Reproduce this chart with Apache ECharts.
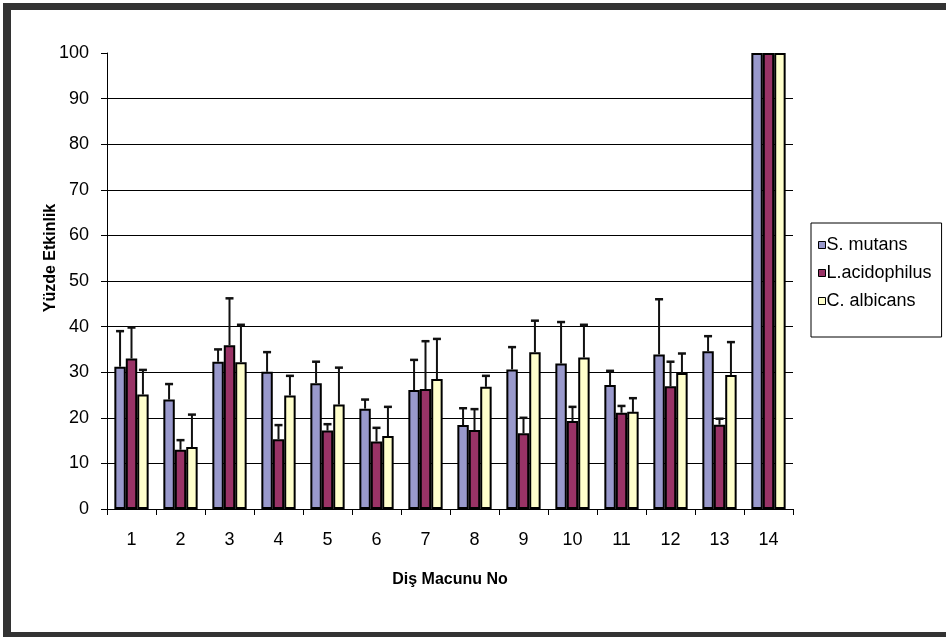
<!DOCTYPE html>
<html>
<head>
<meta charset="utf-8">
<script src="https://cdn.jsdelivr.net/npm/echarts@6/dist/echarts.min.js"></script>
<style>
html,body{margin:0;padding:0;background:#fff;}
#chart{width:946px;height:637px;}
</style>
</head>
<body>
<div id="chart"></div>
<script>
const categories = ['1','2','3','4','5','6','7','8','9','10','11','12','13','14'];
const seriesNames = ['S. mutans', 'L.acidophilus', 'C. albicans'];
const sMutans = [31.2, 24.0, 32.3, 30.1, 27.6, 22.0, 26.1, 18.4, 30.6, 31.9, 27.2, 33.9, 34.6, 100];
const lAcidophilus = [33.0, 13.0, 35.9, 15.3, 17.2, 14.8, 26.3, 17.3, 16.6, 19.3, 21.1, 26.9, 18.5, 100];
const cAlbicans = [25.1, 13.6, 32.2, 24.9, 22.9, 16.0, 28.5, 26.8, 34.4, 33.2, 21.3, 29.8, 29.4, 100];
const sMutansErr = [7.8, 3.4, 2.7, 4.3, 4.7, 2.0, 6.6, 3.7, 4.9, 9.1, 3.1, 12.1, 3.3, 0];
const lAcidophilusErr = [6.8, 2.1, 10.3, 3.1, 1.4, 3.0, 10.5, 4.6, 3.4, 3.1, 1.5, 5.4, 1.3, 0];
const cAlbicansErr = [5.4, 7.1, 8.2, 4.3, 8.1, 6.4, 8.8, 2.4, 6.9, 7.2, 3.0, 4.3, 7.2, 0];
const yTicks = [0, 10, 20, 30, 40, 50, 60, 70, 80, 90, 100];

const colors = ['#9999CC', '#993366', '#FFFFCC'];
const values = [sMutans, lAcidophilus, cAlbicans];
const errs = [sMutansErr, lAcidophilusErr, cAlbicansErr];
const FONT = "'Liberation Sans', Arial, sans-serif";
const GAP = 0.3;

const chart = echarts.init(document.getElementById('chart'));

const barSeries = values.map((v, i) => ({
  name: seriesNames[i],
  type: 'bar',
  data: v,
  barGap: '0%',
  barCategoryGap: (GAP * 100) + '%',
  itemStyle: { color: colors[i], borderColor: '#000', borderWidth: 2 },
  z: 2
}));

const errSeries = values.map((v, i) => ({
  type: 'custom',
  name: seriesNames[i] + ' err',
  data: v.map((val, k) => [k, val, val + errs[i][k]]),
  z: 5,
  silent: true,
  renderItem: function (params, api) {
    const idx = api.value(0), val = api.value(1), top = api.value(2);
    if (top <= val) return null;
    const band = api.size([1, 0])[0];
    const bw = band * (1 - GAP) / 3;
    const base = api.coord([idx, val]);
    const tp = api.coord([idx, top]);
    const x = base[0] + (i - 1) * bw;
    return {
      type: 'group',
      children: [
        { type: 'line', shape: { x1: x, y1: base[1], x2: x, y2: tp[1] }, style: { stroke: '#111', lineWidth: 2 } },
        { type: 'line', shape: { x1: x - 4, y1: tp[1], x2: x + 4, y2: tp[1] }, style: { stroke: '#111', lineWidth: 2.5 } }
      ]
    };
  }
}));

chart.setOption({
  animation: false,
  backgroundColor: '#fff',
  textStyle: { fontFamily: FONT },
  grid: { left: 107, right: 153, top: 53, bottom: 128, containLabel: false },
  legend: {
    data: seriesNames,
    orient: 'vertical',
    left: 811,
    top: 223,
    itemWidth: 7,
    itemHeight: 7,
    itemGap: 10,
    padding: [13, 10, 27, 7],
    borderColor: '#000',
    borderWidth: 1,
    icon: 'rect',
    itemStyle: { borderColor: '#000', borderWidth: 1 },
    textStyle: { fontFamily: FONT, fontSize: 18, color: '#000', padding: [0, 0, 0, -4] }
  },
  xAxis: {
    type: 'category',
    data: categories,
    name: 'Diş Macunu No',
    nameLocation: 'middle',
    nameGap: 63,
    nameMoveOverlap: false,
    nameTextStyle: { fontFamily: FONT, fontSize: 16, fontWeight: 'bold', color: '#000' },
    axisLine: { lineStyle: { color: '#000', width: 1 } },
    axisTick: { show: true, alignWithLabel: false, length: 6, lineStyle: { color: '#000' } },
    axisLabel: { fontFamily: FONT, fontSize: 18, color: '#000', margin: 22 },
    splitLine: { show: false }
  },
  yAxis: {
    type: 'value',
    min: yTicks[0],
    max: yTicks[yTicks.length - 1],
    interval: yTicks[1] - yTicks[0],
    name: 'Yüzde Etkinlik',
    nameLocation: 'middle',
    nameGap: 48,
    nameMoveOverlap: false,
    nameRotate: 90,
    nameTextStyle: { fontFamily: FONT, fontSize: 16, fontWeight: 'bold', color: '#000', padding: [0, 0, 0, 46] },
    axisLine: { show: true, lineStyle: { color: '#000', width: 1 } },
    axisTick: { show: true, length: 6, lineStyle: { color: '#000' } },
    axisLabel: { fontFamily: FONT, fontSize: 18, color: '#000', margin: 18 },
    splitLine: { show: true, showMaxLine: false, lineStyle: { color: '#000', width: 1 } }
  },
  graphic: [
    { type: 'rect', left: 3, top: 3, shape: { width: 943, height: 7 }, style: { fill: '#333' }, silent: true },
    { type: 'rect', left: 3, top: 3, shape: { width: 8, height: 634 }, style: { fill: '#333' }, silent: true },
    { type: 'rect', left: 3, top: 632, shape: { width: 943, height: 5 }, style: { fill: '#333' }, silent: true }
  ],
  series: barSeries.concat(errSeries)
});
</script>
</body>
</html>
